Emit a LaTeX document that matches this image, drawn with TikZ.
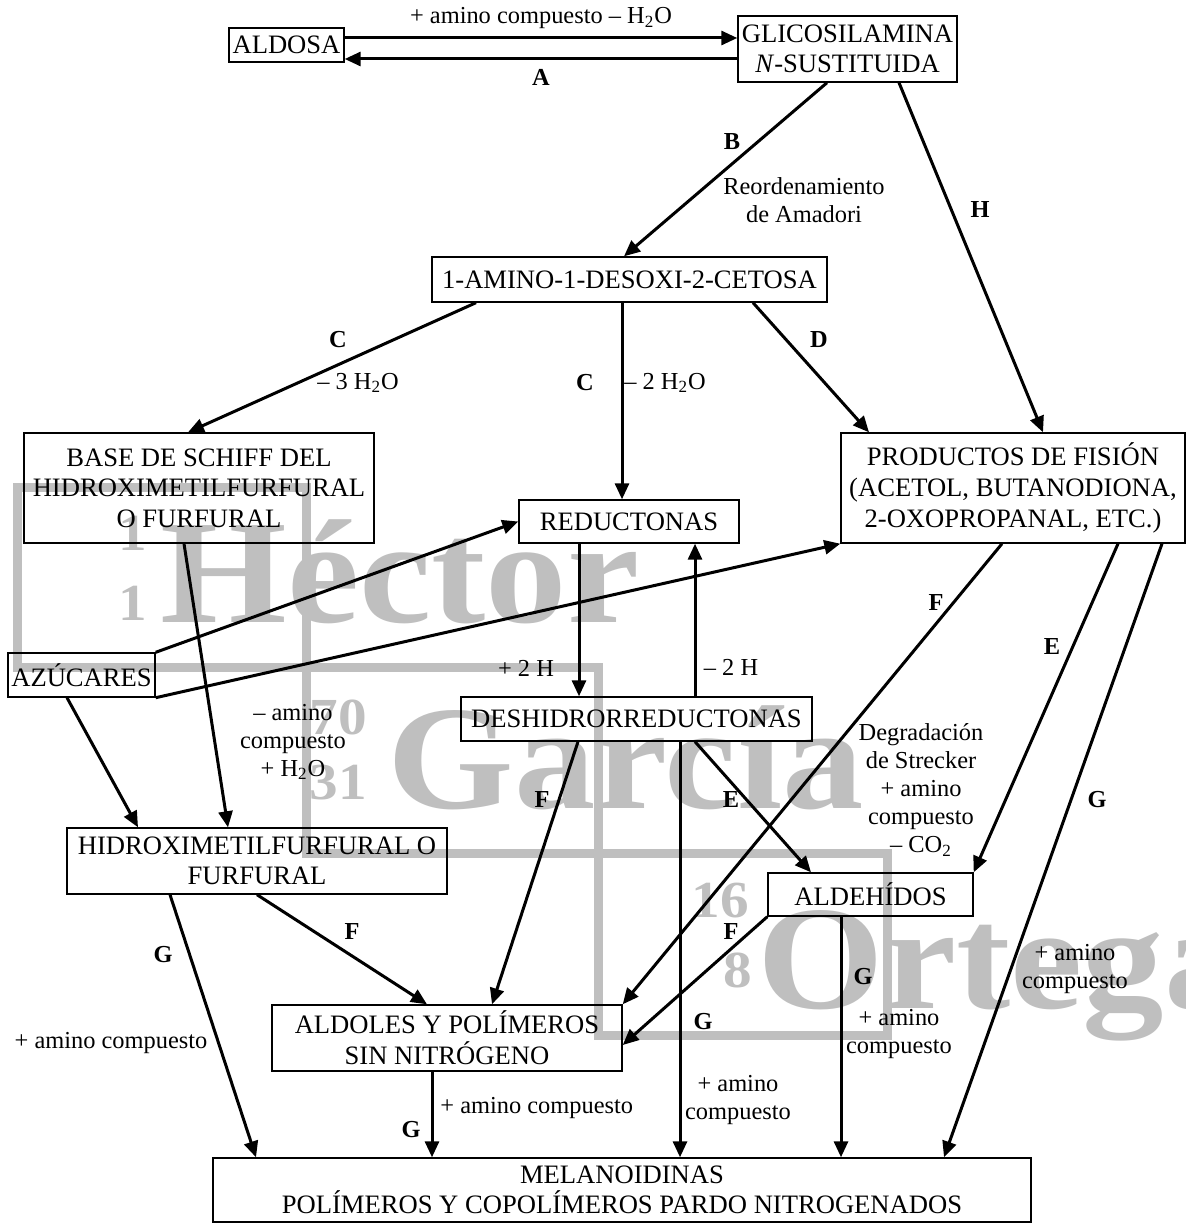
\documentclass[tikz,border=0pt]{standalone}
\usepackage{fontspec}
\setmainfont{Liberation Serif}
\usepackage{graphicx}
\usetikzlibrary{arrows.meta}

\begin{document}
\begin{tikzpicture}[x=0.5pt,y=-0.5pt,
    box/.style={draw,line width=0.7pt,inner sep=0pt,align=center,font=\fontsize{13.3}{15.3}\selectfont},
    lbl/.style={inner sep=0pt,align=center,font=\fontsize{12.2}{14}\selectfont},
    tag/.style={inner sep=0pt,font=\fontsize{12.2}{14}\selectfont\bfseries},
    arr/.style={line width=1.5pt,-{Triangle[length=8pt,width=7pt]}},
    wm/.style={black!25,line width=4.5pt},
    wmbig/.style={text=black!25,inner sep=0pt,anchor=base west,font=\fontsize{74}{80}\selectfont\bfseries},
    wmnum/.style={text=black!25,inner sep=0pt,anchor=base east,font=\fontsize{26}{28}\selectfont\bfseries}]
        \useasboundingbox (0,0) rectangle (1186,1224);

        \draw[wm] (17,487) rectangle (306,667);
        \draw[wm] (306,667) rectangle (598,853);
        \draw[wm] (598,853) rectangle (887,1035);
        \node[wmnum] (wm1a) at (147,550) {\scalebox{1.1}[1]{1}};
        \node[wmnum] (wm1b) at (147,620) {\scalebox{1.1}[1]{1}};
        \node[wmbig] (wmH) at (160,622) {\scalebox{1.1}[1]{Héctor}};
        \node[wmnum] (wm70) at (367,734) {\scalebox{1.1}[1]{70}};
        \node[wmnum] (wm31) at (367,799) {\scalebox{1.1}[1]{31}};
        \node[wmbig] (wmGa) at (387,808) {\scalebox{1.1}[1]{García}};
        \node[wmnum] (wm16) at (749,917) {\scalebox{1.1}[1]{16}};
        \node[wmnum] (wm8) at (752,987) {\scalebox{1.1}[1]{8}};
        \node[wmbig] (wmO) at (757,1008) {\scalebox{1.1}[1]{Ortega}};

        \node[box,minimum width=57.5pt,minimum height=17pt] (aldosa) at (286.5,45) {ALDOSA};
        \node[box,minimum width=109.5pt,minimum height=33pt] (glic) at (847.5,49) {GLICOSILAMINA\\\textit{N}-SUSTITUIDA};
        \node[box,minimum width=197.5pt,minimum height=22.5pt] (amino) at (629.5,279.5) {1-AMINO-1-DESOXI-2-CETOSA};
        \node[box,minimum width=175pt,minimum height=55pt] (schiff) at (199,488) {BASE DE SCHIFF DEL\\HIDROXIMETILFURFURAL\\O FURFURAL};
        \node[box,minimum width=110pt,minimum height=21.5pt] (reduc) at (629,521.5) {REDUCTONAS};
        \node[box,minimum width=172pt,minimum height=55pt] (prod) at (1013,488) {PRODUCTOS DE FISIÓN\\(ACETOL, BUTANODIONA,\\2-OXOPROPANAL, ETC.)};
        \node[box,minimum width=73.5pt,minimum height=22pt] (azuc) at (81.5,675) {AZÚCARES};
        \node[box,minimum width=175.5pt,minimum height=22pt] (deshid) at (636.5,719) {DESHIDRORREDUCTONAS};
        \node[box,minimum width=190pt,minimum height=33pt] (hmf) at (257,861) {HIDROXIMETILFURFURAL O\\FURFURAL};
        \node[box,minimum width=102.5pt,minimum height=21.5pt] (aldeh) at (870.5,894.5) {ALDEHÍDOS};
        \node[box,minimum width=175pt,minimum height=33pt] (aldol) at (447,1038) {ALDOLES Y POLÍMEROS\\SIN NITRÓGENO};
        \node[box,minimum width=409pt,minimum height=32pt] (melan) at (622,1190) {MELANOIDINAS\\POLÍMEROS Y COPOLÍMEROS PARDO NITROGENADOS};

        \coordinate (t1) at ([yshift=3.5pt]aldosa.east);
        \draw[arr] (t1) -- (t1 -| glic.west);
        \coordinate (t2) at ([yshift=-5pt]glic.west);
        \draw[arr] (t2) -- (t2 -| aldosa.east);
        \draw[arr] ([xshift=-10.25pt]glic.south) -- ([xshift=-2.75pt]amino.north);
        \draw[arr] ([xshift=25.75pt]glic.south) -- ([xshift=15pt]prod.north);
        \draw[arr] ([xshift=-76.75pt]amino.south) -- ([xshift=-5.5pt]schiff.north);
        \coordinate (c2) at ([xshift=-3.75pt]amino.south);
        \draw[arr] (c2) -- (c2 |- reduc.north);
        \draw[arr] ([xshift=61.75pt]amino.south) -- ([xshift=-72pt]prod.north);
        \draw[arr] (azuc.north east) -- (reduc.west);
        \draw[arr] (azuc.south east) -- (prod.south west);
        \draw[arr] ([xshift=-7.25pt]azuc.south) -- ([xshift=-59.5pt]hmf.north);
        \draw[arr] ([xshift=-7.5pt]schiff.south) -- ([xshift=-14.5pt]hmf.north);
        \coordinate (r1) at ([xshift=-25pt]reduc.south);
        \draw[arr] (r1) -- (r1 |- deshid.north);
        \coordinate (r2) at ([xshift=29.25pt]deshid.north);
        \draw[arr] (r2) -- (r2 |- reduc.south);
        \draw[arr] ([xshift=-29.25pt]deshid.south) -- ([xshift=22.5pt]aldol.north);
        \coordinate (d1) at ([xshift=21.75pt]deshid.south);
        \draw[arr] (d1) -- (d1 |- melan.north);
        \draw[arr] ([xshift=29.25pt]deshid.south) -- ([xshift=-29.75pt]aldeh.north);
        \draw[arr] ([xshift=-5.5pt]prod.south) -- (aldol.north east);
        \draw[arr] ([xshift=52.5pt]prod.south) -- (aldeh.north east);
        \draw[arr] ([xshift=74.5pt]prod.south) -- ([xshift=161pt]melan.north);
        \draw[arr] ([xshift=-43.5pt]hmf.south) -- ([xshift=-183pt]melan.north);
        \draw[arr] (hmf.south) -- ([xshift=-10pt]aldol.north);
        \draw[arr] (aldeh.south west) -- ([yshift=-3.5pt]aldol.east);
        \coordinate (a1) at ([xshift=-14.75pt]aldeh.south);
        \draw[arr] (a1) -- (a1 |- melan.north);
        \coordinate (a2) at ([xshift=-7.5pt]aldol.south);
        \draw[arr] (a2) -- (a2 |- melan.north);

        \node[lbl] (lTop) at (541,18) {+ amino compuesto – H\textsubscript{2}O};
        \node[tag] (lA) at (541,77) {A};
        \node[tag] (lB) at (732,142) {B};
        \node[lbl] (lAmadori) at (804,200) {Reordenamiento\\de Amadori};
        \node[tag] (lH) at (980,210) {H};
        \node[tag] (lC1) at (338,340) {C};
        \node[lbl] (l3w) at (358,383) {– 3 H\textsubscript{2}O};
        \node[tag] (lC2) at (585,383) {C};
        \node[lbl] (l2w) at (665,383) {– 2 H\textsubscript{2}O};
        \node[tag] (lD) at (819,340) {D};
        \node[lbl] (lp2h) at (526,668) {+ 2 H};
        \node[lbl] (lm2h) at (731,667) {– 2 H};
        \node[lbl] (lmamino) at (293,742) {– amino\\compuesto\\+ H\textsubscript{2}O};
        \node[tag] (lF1) at (542,800) {F};
        \node[tag] (lF2) at (936,603) {F};
        \node[tag] (lE1) at (1052,647) {E};
        \node[tag] (lE2) at (731,800) {E};
        \node[lbl] (lStrecker) at (921,790) {Degradación\\de Strecker\\+ amino\\compuesto\\– CO\textsubscript{2}};
        \node[tag] (lG1) at (1097,800) {G};
        \node[tag] (lG2) at (163,955) {G};
        \node[lbl] (lam1) at (111,1043) {+ amino compuesto};
        \node[tag] (lF3) at (352,932) {F};
        \node[tag] (lF4) at (731,932) {F};
        \node[tag] (lG3) at (863,977) {G};
        \node[lbl] (lam2) at (899,1034) {+ amino\\compuesto};
        \node[tag] (lG4) at (703,1022) {G};
        \node[lbl] (lam3) at (738,1100) {+ amino\\compuesto};
        \node[lbl] (lam4) at (1075,969) {+ amino\\compuesto};
        \node[tag] (lG5) at (411,1130) {G};
        \node[lbl,anchor=west] (lam5) at (440,1108) {+ amino compuesto};

      \end{tikzpicture}
\end{document}
